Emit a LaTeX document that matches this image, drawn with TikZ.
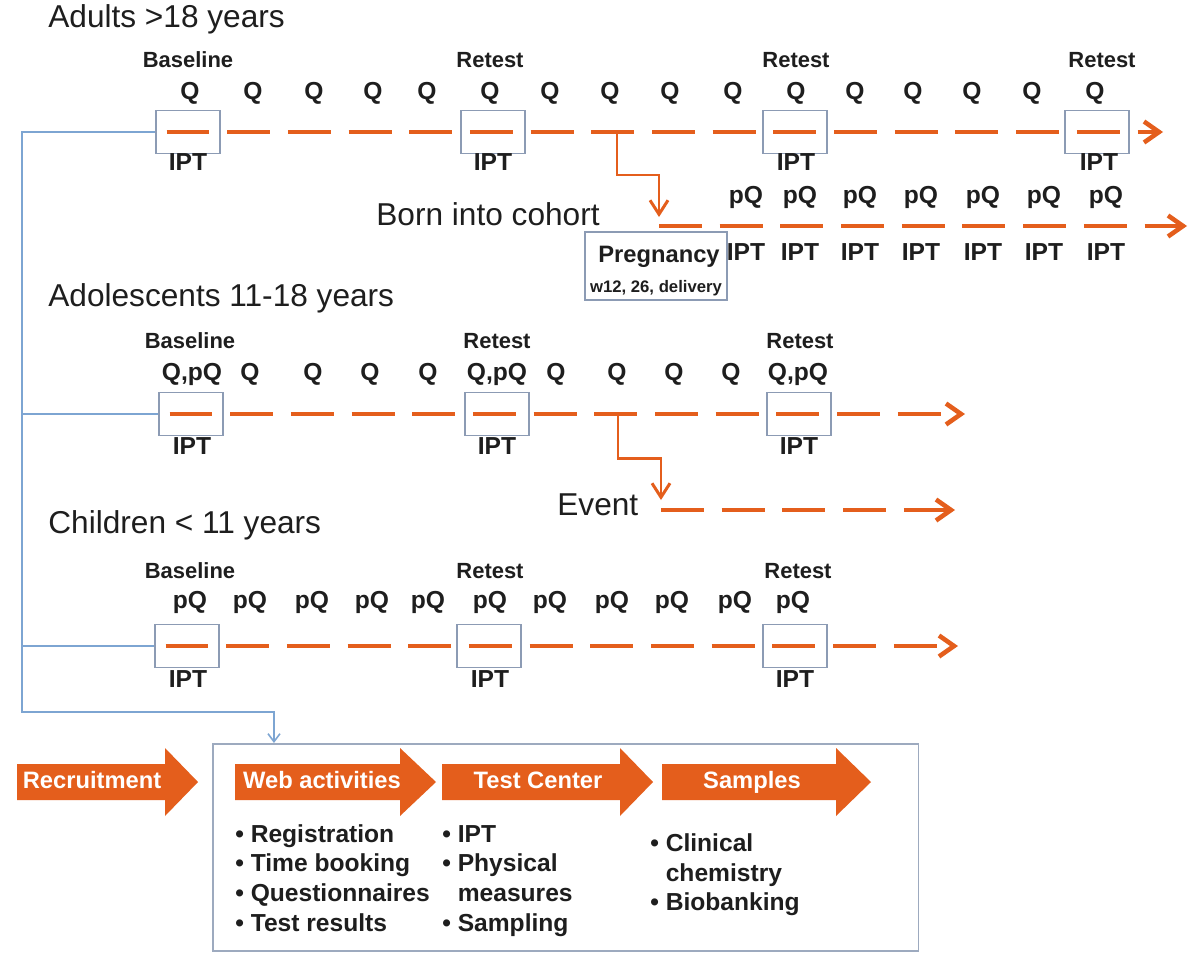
\documentclass[tikz,border=0pt]{standalone}
\usepackage{fontspec}
\setmainfont{Liberation Sans}
\usetikzlibrary{arrows.meta}
\definecolor{timeorange}{RGB}{228,94,28}
\definecolor{linkblue}{RGB}{125,165,210}
\definecolor{boxgrey}{RGB}{140,155,180}
\definecolor{inkgrey}{RGB}{30,30,30}

\begin{document}
\begin{tikzpicture}[x=0.02cm, y=-0.02cm, every node/.style={text=inkgrey, inner sep=0pt}]
    \tikzstyle{capline}=[text height=0.72em, text depth=0pt]
    \tikzstyle{title}=[capline, anchor=west, font=\fontsize{18}{21}\selectfont]
    \tikzstyle{visit}=[capline, font=\bfseries\fontsize{12.5}{15}\selectfont]
    \tikzstyle{quest}=[capline, font=\bfseries\fontsize{14}{16}\selectfont]
    \tikzstyle{testbox}=[draw=boxgrey, line width=0.9pt, minimum width=1.28cm, minimum height=0.86cm]
    \tikzstyle{timeline}=[draw=timeorange, line width=2.6pt, dash pattern=on 0.86cm off 0.354cm, -{Straight Barb[length=0.3cm,width=0.42cm]}]
    \tikzstyle{branch}=[draw=timeorange, line width=1.7pt, -{Straight Barb[length=0.28cm,width=0.36cm]}]
    \tikzstyle{link}=[draw=linkblue, line width=0.9pt]
    \tikzstyle{stage}=[fill=timeorange]
    \tikzstyle{stage text}=[capline, text=white, font=\bfseries\fontsize{13.5}{16}\selectfont]
    \tikzstyle{item}=[capline, anchor=west, font=\bfseries\fontsize{14}{16}\selectfont]

    \path[fill=white] (0,0) rectangle (1191,954);

    % Adults
    \node[title] (adults) at (48,21) {Adults >18 years};
    \foreach \x [count=\i] in {188,493,795,1097}
        \node[testbox] (A-\i) at (\x,132) {};
    \node[visit] (A-base) at (188,61) {Baseline};
    \foreach \x [count=\i] in {490,796,1102}
        \node[visit] (A-re-\i) at (\x,61) {Retest};
    \foreach \x [count=\i] in {190,253,314,373,427,490,550,610,670,733,796,855,913,972,1032,1095}
        \node[quest] (A-q-\i) at (\x,93) {Q};
    \foreach \x [count=\i] in {188,493,796,1099}
        \node[quest] (A-ipt-\i) at (\x,164) {IPT};
    \coordinate (A-end) at (1163,132);
    \draw[timeline] ([xshift=-0.43cm]A-1.center) -- (A-end);

    % Born into cohort
    \coordinate (A-split) at (617,132);
    \coordinate (P-start) at (659,226);
    \coordinate (P-end) at (1187,226);
    \draw[branch, shorten >=0.18cm] (A-split) -- ++(0,43) -| (P-start);
    \draw[timeline] (P-start) -- (P-end);
    \node[title, anchor=east] (born) at (600,219) {Born into cohort};
    \foreach \x [count=\i] in {746,800,860,921,983,1044,1106}
    {
        \node[quest] (P-q-\i) at (\x,197) {pQ};
        \node[quest] (P-ipt-\i) at (\x,254) {IPT};
    }
    \node[draw=boxgrey, line width=0.9pt, minimum width=2.84cm, minimum height=1.36cm] (preg) at (656,266) {};
    \node[capline, font=\bfseries\fontsize{13.5}{16}\selectfont] (preg-name) at (659,256) {Pregnancy};
    \node[capline, font=\bfseries\fontsize{9.5}{11}\selectfont] (preg-weeks) at (656,286) {w12, 26, delivery};

    % Adolescents
    \node[title] (teens) at (48,300) {Adolescents 11-18 years};
    \foreach \x [count=\i] in {191,497,799}
        \node[testbox] (B-\i) at (\x,414) {};
    \node[visit] (B-base) at (190,342) {Baseline};
    \foreach \x [count=\i] in {497,800}
        \node[visit] (B-re-\i) at (\x,342) {Retest};
    \foreach \x/\t [count=\i] in {192/{Q,pQ},250/Q,313/Q,370/Q,428/Q,497/{Q,pQ},556/Q,617/Q,674/Q,731/Q,798/{Q,pQ}}
        \node[quest] (B-q-\i) at (\x,374) {\t};
    \foreach \x [count=\i] in {192,497,799}
        \node[quest] (B-ipt-\i) at (\x,448) {IPT};
    \coordinate (B-end) at (965,414);
    \draw[timeline] ([xshift=-0.43cm]B-1.center) -- (B-end);

    % Event
    \coordinate (B-split) at (618,414);
    \coordinate (E-start) at (661,510);
    \coordinate (E-end) at (955,510);
    \draw[branch, shorten >=0.2cm] (B-split) -- ++(0,44) -| (E-start);
    \draw[timeline] (E-start) -- (E-end);
    \node[title] (event) at (557,509) {Event};

    % Children
    \node[title] (kids) at (48,527) {Children < 11 years};
    \foreach \x [count=\i] in {187,489,795}
        \node[testbox] (C-\i) at (\x,646) {};
    \node[visit] (C-base) at (190,572) {Baseline};
    \foreach \x [count=\i] in {490,798}
        \node[visit] (C-re-\i) at (\x,572) {Retest};
    \foreach \x [count=\i] in {190,250,312,372,428,490,550,612,672,735,793}
        \node[quest] (C-q-\i) at (\x,602) {pQ};
    \foreach \x [count=\i] in {188,490,795}
        \node[quest] (C-ipt-\i) at (\x,681) {IPT};
    \coordinate (C-end) at (958,646);
    \draw[timeline] ([xshift=-0.43cm]C-1.center) -- (C-end);

    % Recruitment links
    \node[draw=boxgrey!85, line width=0.9pt, anchor=north west, minimum width=14.12cm, minimum height=4.14cm] (panel) at (212,743) {};
    \coordinate (trunk-bot) at (22,712);
    \draw[link, -{Straight Barb[length=0.16cm,width=0.24cm]}] (A-1.west) -| (trunk-bot) -| ([xshift=1.24cm]panel.north west);
    \draw[link] (B-1.west) -- (B-1.west -| trunk-bot);
    \draw[link] (C-1.west) -- (C-1.west -| trunk-bot);

    % Stages
    \foreach \a/\b/\c in {17/165/198, 235/400/436, 442/620/653, 662/836/871}
        \fill[stage] (\a,764) -- (\b,764) -- (\b,748) -- (\c,782) -- (\b,816) -- (\b,800) -- (\a,800) -- cycle;
    \node[stage text] (recruit) at (92,782) {Recruitment};
    \node[stage text] (web) at (322,782) {Web activities};
    \node[stage text] (center) at (538,782) {Test Center};
    \node[stage text] (samples) at (752,782) {Samples};

    \foreach \y/\t [count=\i] in {836/Registration,865/Time booking,895/Questionnaires,925/Test results}
        \node[item] (web-\i) at (235,\y) {\textbullet\ \t};
    \foreach \y/\t [count=\i] in {836/\textbullet\ IPT,865/\textbullet\ Physical,895/\phantom{\textbullet\ }measures,925/\textbullet\ Sampling}
        \node[item] (center-\i) at (442,\y) {\t};
    \foreach \y/\t [count=\i] in {845/\textbullet\ Clinical,875/\phantom{\textbullet\ }chemistry,904/\textbullet\ Biobanking}
        \node[item] (samples-\i) at (650,\y) {\t};
\end{tikzpicture}
\end{document}
